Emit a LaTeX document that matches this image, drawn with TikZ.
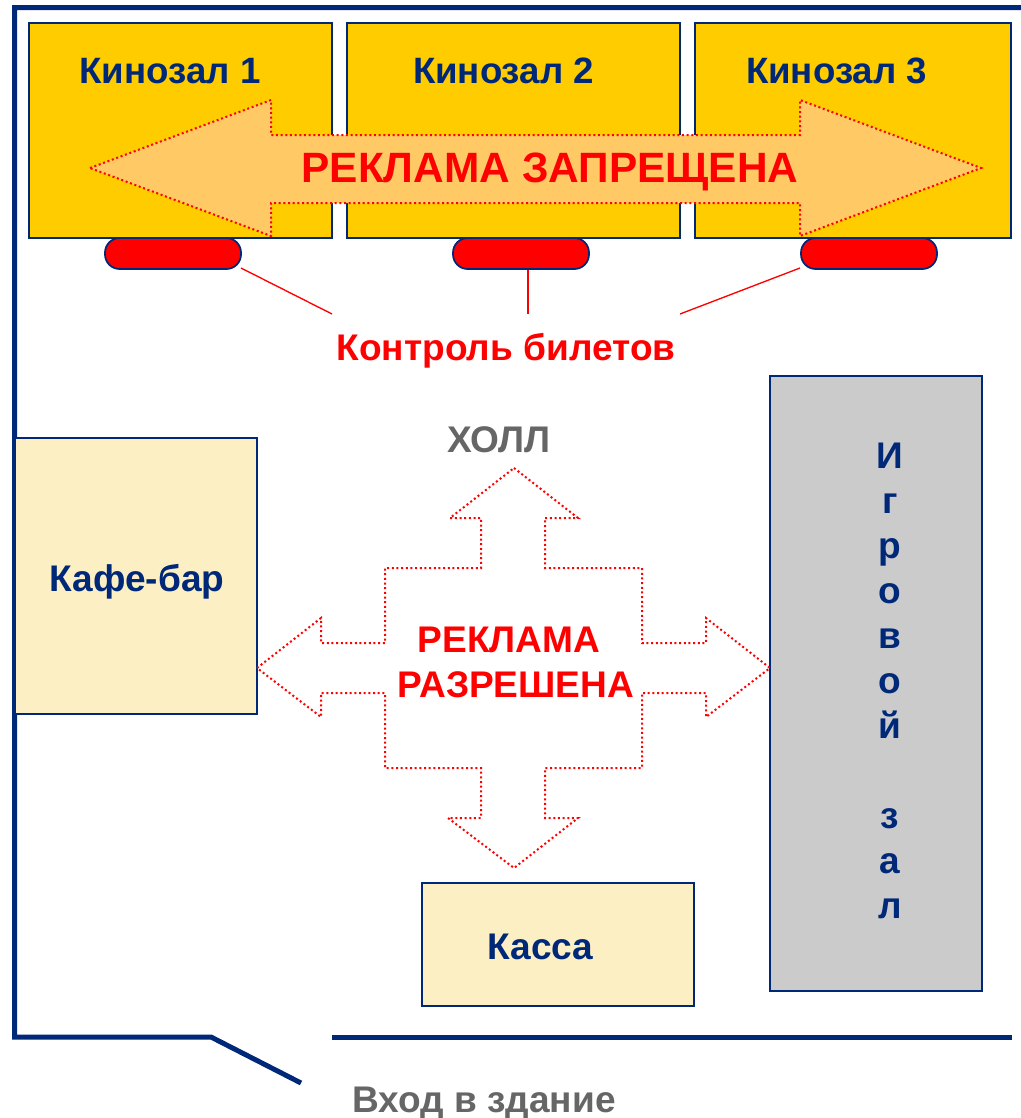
\documentclass[tikz,border=0pt]{standalone}
\usepackage{fontspec}
\setmainfont{Liberation Sans}
\definecolor{navy}{HTML}{002878}
\definecolor{hallgold}{HTML}{FFCC00}
\definecolor{arrowfill}{HTML}{FFC966}
\definecolor{cream}{HTML}{FBEFC3}
\definecolor{slategrey}{HTML}{CBCBCB}
\definecolor{labelgrey}{HTML}{666666}
\definecolor{adred}{HTML}{FF0000}
\tikzset{
 x=0.75pt,y=-0.75pt,
 hallbox/.style={draw=navy,fill=hallgold,line width=1.3pt},
 creambox/.style={draw=navy,fill=cream,line width=1.3pt},
 greybox/.style={draw=navy,fill=slategrey,line width=1.3pt},
 wall/.style={draw=navy,line width=3.75pt},
 pill/.style={draw=navy,fill=adred,line width=1.3pt,rounded corners=11pt},
 adarrow/.style={draw=adred,line width=1.5pt,dotted},
 navytext/.style={text=navy,font=\bfseries\fontsize{27.8}{32}\selectfont,inner sep=0pt},
 halltext/.style={text=navy,font=\bfseries\fontsize{27.5}{32}\selectfont,inner sep=0pt},
 redtext/.style={text=adred,font=\bfseries\fontsize{27.8}{32}\selectfont,inner sep=0pt,align=center},
 greytext/.style={text=labelgrey,font=\bfseries\fontsize{27.8}{32}\selectfont,inner sep=0pt},
 ctrl/.style={draw=adred,line width=1pt},
}
\begin{document}
\begin{tikzpicture}
\useasboundingbox (0,0) rectangle (1021,1118);
% walls
\draw[wall] (1021,7.5) -- (14.5,7.5) -- (14.5,1037) -- (211,1037) -- (301,1083);
\draw[wall] (332,1037) -- (1012,1037);
% cinema halls
\draw[hallbox] (29,23) rectangle (332,238);
\draw[hallbox] (347,23) rectangle (680,238);
\draw[hallbox] (695,23) rectangle (1011,238);
\node[halltext] (k1) at (170,71) {Кинозал 1};
\node[halltext] (k2) at (503.5,71) {Кинозал 2};
\node[halltext] (k3) at (836.5,71) {Кинозал 3};
% ban arrow
\draw[adarrow,fill=arrowfill] (90,168) -- (271,100) -- (271,135) -- (800,135) -- (800,100) -- (981,168) -- (800,236) -- (800,203) -- (271,203) -- (271,236) -- cycle;
\node[redtext,font=\bfseries\fontsize{31.8}{36}\selectfont] (ban) at (550,172) {РЕКЛАМА ЗАПРЕЩЕНА};
% ticket control
\draw[pill] (105,238) rectangle (241,269);
\draw[pill] (453,238) rectangle (589,269);
\draw[pill] (801,238) rectangle (937,269);
\node[redtext] (ctl) at (506,351) {Контроль билетов};
\coordinate (p1) at (241,268); \coordinate (c1) at (332,314);
\coordinate (p2) at (528,270); \coordinate (c2) at (528,314);
\coordinate (p3) at (800,268); \coordinate (c3) at (680,314);
\draw[ctrl] (p1) -- (c1);
\draw[ctrl] (p2) -- (c2);
\draw[ctrl] (p3) -- (c3);
% rooms
\draw[creambox] (15,438) rectangle (257,714);
\node[navytext] (cafe) at (137,582) {Кафе-бар};
\draw[creambox] (422,883) rectangle (694,1006);
\node[navytext] (kassa) at (540.5,947) {Касса};
\draw[greybox] (770,376) rectangle (982,991);
\node[navytext,align=center,font=\bfseries\fontsize{27.8}{33.75}\selectfont] (game) at (890,680.5) {И\\г\\р\\о\\в\\о\\й\\[33.75pt]з\\а\\л};
% cross arrow
\draw[adarrow] (514,468) -- (578,518) -- (545,518) -- (545,568) -- (642,568) -- (642,643) -- (706,643) -- (706,618) -- (770,668) -- (706,717) -- (706,693) -- (642,693) -- (642,768) -- (545,768) -- (545,818) -- (578,818) -- (514,868) -- (448,818) -- (481,818) -- (481,768) -- (385,768) -- (385,693) -- (321,693) -- (321,717) -- (257,668) -- (321,618) -- (321,643) -- (385,643) -- (385,568) -- (481,568) -- (481,518) -- (450,518) -- cycle;
\node[redtext] (ok1) at (509,640) {РЕКЛАМА};
\node[redtext] (ok2) at (516,685) {РАЗРЕШЕНА};
\node[greytext] (hall) at (499,440) {ХОЛЛ};
\node[greytext] (entry) at (484,1103) {Вход в здание};
\end{tikzpicture}
\end{document}
